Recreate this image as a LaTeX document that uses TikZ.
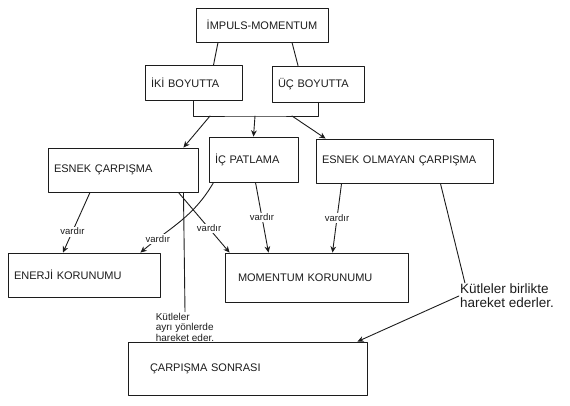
\documentclass[tikz,border=0pt]{standalone}
\usepackage{fontspec}
\setmainfont{Liberation Sans}
\usepackage{xcolor}
\usepackage{tikz}
\usetikzlibrary{arrows.meta}
\definecolor{cmInk}{HTML}{1C1C1C}
\tikzset{
  cm diagram/.style={x=1pt, y=-1pt, text=cmInk,
    line cap=round, line join=round},
  cm box/.style={draw=cmInk, fill=white, line width=0.9pt, align=left,
    inner xsep=6pt, inner ysep=3pt, font=\fontsize{11}{13}\selectfont},
  cm line/.style={draw=cmInk, line width=0.9pt},
  cm arrow/.style={cm line, -{Stealth[length=2.2mm,width=2mm]}},
  cm label/.style={fill=white, inner sep=1.5pt, font=\fontsize{9.5}{11}\selectfont},
  cm note/.style={align=left, inner sep=1pt}
}

\begin{document}
\begin{tikzpicture}[cm diagram]
\useasboundingbox (0,0) rectangle (570,406);
% boxes
\node[cm box, align=center, text width=120pt, minimum height=34pt] (top) at (262,25) {İMPULS-MOMENTUM};
\node[cm box, text width=85pt, minimum height=35pt] (iki) at (193.5,83) {İKİ BOYUTTA};
\node[cm box, text width=80pt, minimum height=36pt] (uc) at (318,84) {ÜÇ BOYUTTA};
\node[cm box, text width=138pt, minimum height=44pt] (esnek) at (123,170) {ESNEK ÇARPIŞMA};
\node[cm box, text width=77pt, minimum height=45pt] (ic) at (253.5,159.5) {İÇ PATLAMA};
\node[cm box, text width=165pt, minimum height=44pt] (olmayan) at (404.5,161) {ESNEK OLMAYAN ÇARPIŞMA};
\node[cm box, text width=140pt, minimum height=44pt] (enerji) at (84,275) {ENERJİ KORUNUMU};
\node[cm box, inner xsep=13pt, text width=157pt, minimum height=49pt] (momentum) at (316.5,277.5) {MOMENTUM KORUNUMU};
\node[cm box, inner xsep=22pt, text width=195pt, minimum height=53pt] (sonra) at (247.5,368.5) {ÇARPIŞMA SONRASI};
% notes
\node[cm note, font=\fontsize{10}{10.5}\selectfont] (ayri) at (185,327) {Kütleler\\ayrı yönlerde\\hareket eder.};
\node[cm note, font=\fontsize{13.5}{14}\selectfont] (birlikte) at (507,296) {Kütleler birlikte\\hareket ederler.};

% top part
\draw[cm line] ([xshift=-44pt]top.south) -- ([xshift=20pt]iki.north);
\draw[cm line] ([xshift=30pt]top.south) -- ([xshift=-20pt]uc.north);
\coordinate (bar) at (255,116);
\coordinate (bar a) at (210,116);
\coordinate (bar c) at (292,116);
\draw[cm line] (iki.south) |- (bar) -| (uc.south);
\draw[cm arrow] (bar a) -- ([xshift=-15pt]esnek.north east);
\draw[cm arrow] (bar) -- (ic.north);
\draw[cm arrow] (bar c) -- ([xshift=10pt]olmayan.north west);

% vardir links
\draw[cm arrow] ([xshift=-33pt]esnek.south) -- node[cm label, pos=.65] {vardır} ([xshift=-21pt]enerji.north);
\draw[cm arrow] ([xshift=5pt]ic.south west) to[out=-120, in=40] node[cm label, pos=.8] {vardır} ([xshift=-20pt]enerji.north east);
\draw[cm arrow] ([xshift=-20pt]esnek.south east) -- node[cm label, pos=.6] {vardır} ([xshift=5pt]momentum.north west);
\draw[cm arrow] ([xshift=2pt]ic.south) -- node[cm label] {vardır} ([xshift=-48pt]momentum.north);
\draw[cm arrow] ([xshift=26pt]olmayan.south west) -- node[cm label] {vardır} ([xshift=16pt]momentum.north);

% after the collision
\draw[cm line] ([xshift=-15pt]esnek.south east) -- (ayri.north);
\draw[cm line] ([xshift=-53pt]olmayan.south east) -- ([xshift=6pt]birlikte.north west);
\draw[cm arrow] (birlikte.west) -- ([xshift=-10pt]sonra.north east);
\end{tikzpicture}
\end{document}
